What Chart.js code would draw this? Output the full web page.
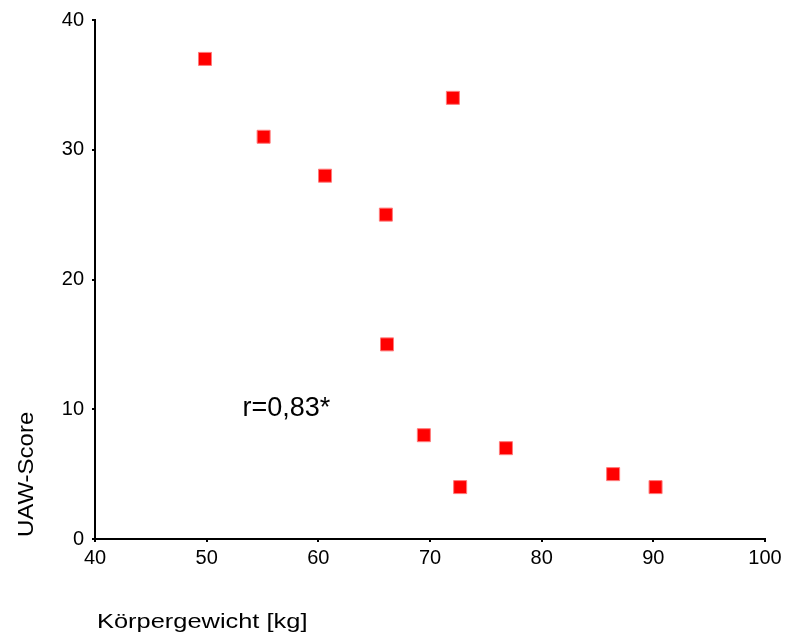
<!DOCTYPE html>
<html>
<head>
<meta charset="utf-8">
<script src="https://cdn.jsdelivr.net/npm/chart.js@4"></script>
<style>
  html, body { margin: 0; padding: 0; background: #fff; }
  #wrap { width: 786px; height: 639px; }
</style>
</head>
<body>
<div id="wrap"><canvas id="scatter"></canvas></div>
<script>
// body weight (kg) vs. UAW score
const weight = [49.85, 55.1, 60.6, 66.05, 72.05, 66.15, 69.45, 72.7, 76.8, 86.4, 90.2];
const uawScore = [37, 31, 28, 25, 34, 15, 8, 4, 7, 5, 4];
const xTicks = [40, 50, 60, 70, 80, 90, 100];
const yTicks = [0, 10, 20, 30, 40];

const xTitle = "Körpergewicht [kg]";
const yTitle = "UAW-Score";
const corrText = "r=0,83*";
const corrAt = { x: 53.2, y: 9.5 }; // baseline-left, in data units

const FONT = "'Liberation Sans', Arial, sans-serif";

// draw text squeezed/stretched along its own direction
function stretchedText(ctx, text, x, y, size, sx, rot) {
  ctx.save();
  ctx.translate(x, y);
  if (rot) ctx.rotate(rot);
  ctx.scale(sx, 1);
  ctx.font = size + "px " + FONT;
  ctx.fillStyle = "#000";
  ctx.textAlign = "left";
  ctx.textBaseline = "alphabetic";
  ctx.fillText(text, 0, 0);
  ctx.restore();
}

const labels = {
  id: "labels",
  afterDraw(chart) {
    const { ctx, chartArea, scales } = chart;
    stretchedText(ctx, xTitle, chartArea.left + 2, 628, 21, 1.21);
    stretchedText(ctx, yTitle, 33, chartArea.bottom - 2, 22, 1.09, -Math.PI / 2);
    stretchedText(ctx, corrText, scales.x.getPixelForValue(corrAt.x),
      scales.y.getPixelForValue(corrAt.y), 27, 1.0);
  }
};

new Chart(document.getElementById("scatter"), {
  type: "scatter",
  data: {
    datasets: [{
      data: weight.map((w, i) => ({ x: w, y: uawScore[i] })),
      pointStyle: "rect",
      pointRadius: 9.2,
      pointHoverRadius: 9.2,
      backgroundColor: "#ff0000",
      borderColor: "#ff7a7a",
      borderWidth: 1
    }]
  },
  options: {
    responsive: true,
    maintainAspectRatio: false,
    animation: false,
    layout: { padding: { top: 19, right: 21, left: 0, bottom: 0 } },
    plugins: { legend: { display: false }, tooltip: { enabled: false } },
    scales: {
      x: {
        type: "linear",
        min: 40,
        max: 100,
        afterBuildTicks: (s) => { s.ticks = xTicks.map(v => ({ value: v })); },
        afterFit: (s) => { s.height = 100; },
        grid: { drawOnChartArea: false, drawTicks: true, tickLength: 3, color: "#000", lineWidth: 2 },
        border: { display: true, color: "#000", width: 2 },
        ticks: { color: "#000", padding: 4, font: { family: FONT, size: 20 }, maxRotation: 0 }
      },
      y: {
        type: "linear",
        min: 0,
        max: 40,
        afterBuildTicks: (s) => { s.ticks = yTicks.map(v => ({ value: v })); },
        afterFit: (s) => { s.width = 95; },
        grid: { drawOnChartArea: false, drawTicks: true, tickLength: 3, color: "#000", lineWidth: 2 },
        border: { display: true, color: "#000", width: 2 },
        ticks: { color: "#000", padding: 8, font: { family: FONT, size: 20 } }
      }
    }
  },
  plugins: [labels]
});
</script>
</body>
</html>
